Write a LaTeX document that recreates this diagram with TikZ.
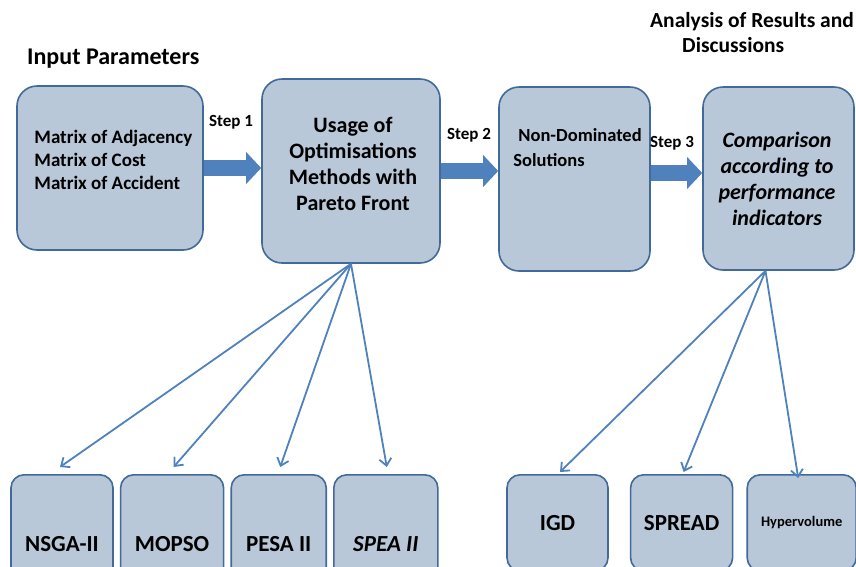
\documentclass[tikz,border=0pt]{standalone}
\usepackage{fontspec}
\setmainfont{Carlito}
\usepackage{tikz}
\usetikzlibrary{arrows.meta,positioning}
\definecolor{boxfill}{HTML}{B9C8D8}
\definecolor{boxline}{HTML}{41699A}
\definecolor{arrowblue}{HTML}{4F81BD}
\tikzset{box style/.style = {%
  draw = boxline,
  fill = boxfill,
  line width = 1.6pt,
  rounded corners = 20pt,
  inner sep = 0pt
 },
 small box style/.style = {
  box style,
  rounded corners = 13pt,
  font = \fontsize{23}{26}\selectfont\bfseries
 },
 box text/.style = {
  inner sep = 0pt,
  font = \fontsize{19}{23}\selectfont\bfseries
 },
 step arrow/.style = {
  draw = arrowblue,
  line width = 16pt,
  -{Triangle[length=15pt,width=31pt]}
 },
 fan arrow/.style = {
  draw = arrowblue,
  line width = 1.8pt,
  -{Straight Barb[length=7pt,width=12pt]}
 },
 step label/.style = {
  inner sep = 0pt,
  font = \fontsize{17}{19}\selectfont\bfseries
 }
}

\begin{document}
\begin{tikzpicture}[x=1pt,y=-1pt]
      \useasboundingbox (0,0) rectangle (856,566);
      \clip (0,0) rectangle (856,566);

      % main row
      \node[box style, minimum width=186pt, minimum height=164pt] (input) at (110,168) {};
      \node[box style, minimum width=178pt, minimum height=184pt] (usage) at (351,171) {};
      \node[box style, minimum width=151pt, minimum height=184pt] (nondom) at (574.5,179) {};
      \node[box style, minimum width=151pt, minimum height=183pt] (compare) at (778.5,178.5) {};

      \node[box text, anchor=west, align=left] (inputText) at ([xshift=18pt,yshift=8pt]input.west)
        {Matrix of Adjacency\\Matrix of Cost\\Matrix of Accident};
      \node[box text, align=center, font=\fontsize{22}{26}\selectfont\bfseries] (usageText)
        at ([xshift=2pt,yshift=7.5pt]usage.center)
        {Usage of\\Optimisations\\Methods with\\Pareto Front};
      \node[box text, anchor=west, align=left, font=\fontsize{18.5}{25}\selectfont\bfseries] (nondomText)
        at ([xshift=15pt,yshift=31.5pt]nondom.west)
        {\hspace*{5pt}Non-Dominated\\Solutions};
      \node[box text, align=center, font=\fontsize{22}{26}\selectfont\bfseries\itshape] (compareText)
        at ([xshift=-1.5pt]compare.center)
        {Comparison\\according to\\performance\\indicators};

      % headings
      \node[box text, anchor=west, font=\fontsize{24}{26}\selectfont\bfseries] (inputTitle) at (27,59) {Input Parameters};
      \node[box text, anchor=north west, align=left, font=\fontsize{21.5}{25}\selectfont\bfseries] (resultTitle)
        at (650,12) {Analysis of Results and\\\hspace*{32pt}Discussions};

      % steps
      \draw[step arrow] (input.east) -- (input.east -| usage.west);
      \draw[step arrow] (usage.east) -- (usage.east -| nondom.west);
      \draw[step arrow] ([yshift=6pt]nondom.east) -- ([yshift=6pt]nondom.east -| compare.west);
      \node[step label] (step1) at (231,122) {Step 1};
      \node[step label] (step2) at (469,135) {Step 2};
      \node[step label] (step3) at (672,143) {Step 3};

      % methods
      \node[small box style, minimum width=102pt, minimum height=138pt, anchor=north] (nsga) at (62,474) {NSGA-II};
      \node[small box style, minimum width=103pt, minimum height=138pt, right=6pt of nsga] (mopso) {MOPSO};
      \node[small box style, minimum width=95pt, minimum height=138pt, right=6pt of mopso] (pesa) {PESA II};
      \node[small box style, minimum width=104pt, minimum height=138pt, right=6pt of pesa] (spea) {\itshape SPEA II};

      % indicators
      \node[small box style, minimum width=101pt, minimum height=96pt, anchor=north] (igd) at (557.5,474) {IGD};
      \node[small box style, minimum width=102pt, minimum height=96pt, right=21pt of igd] (spread) {SPREAD};
      \node[small box style, minimum width=109pt, minimum height=96pt, right=13pt of spread,
        font=\fontsize{14.5}{16}\selectfont\bfseries] (hyper) {Hypervolume};

      \coordinate (fanL) at (usage.south);
      \coordinate (fanR) at ([xshift=-13pt]compare.south);
      \foreach \b/\dx in {nsga/-2,mopso/1.5,pesa/1.5,spea/1}
        \draw[fan arrow] (fanL) -- ([xshift=\dx pt,yshift=7pt]\b.north);
      \foreach \b/\dx/\dy in {igd/2.5/2,spread/2/2,hyper/-3.5/-4}
        \draw[fan arrow] (fanR) -- ([xshift=\dx pt,yshift=\dy pt]\b.north);
     \end{tikzpicture}
\end{document}
